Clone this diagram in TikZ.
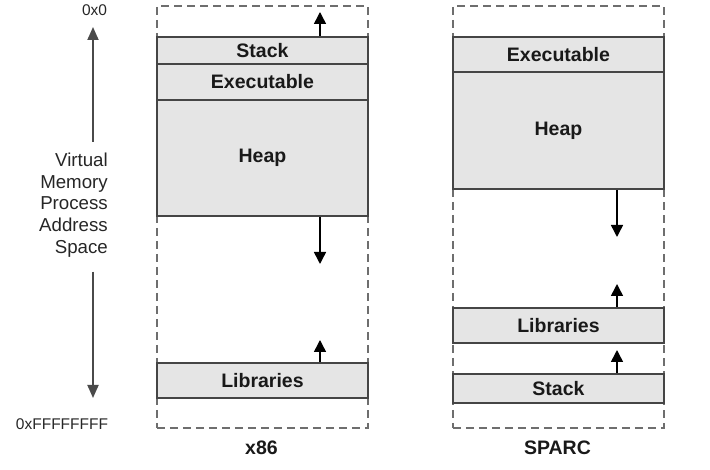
\documentclass[tikz,border=0pt]{standalone}
\usepackage{fontspec}
\setmainfont{Liberation Sans}
\usetikzlibrary{arrows.meta}
\definecolor{segfill}{HTML}{E5E5E5}
\definecolor{boxline}{HTML}{454545}
\definecolor{framegray}{HTML}{6E6E6E}
\definecolor{axisgray}{HTML}{4A4A4A}
\begin{document}
\begin{tikzpicture}[x=1pt,y=-1pt,
  seg/.style={draw=boxline, line width=1.9pt, fill=segfill, inner sep=0pt,
    minimum width=211pt, anchor=north west,
    font=\fontsize{19.5}{21}\selectfont\bfseries, text=black!90},
  frame/.style={draw=framegray, line width=1.7pt, dash pattern=on 8pt off 5pt,
    minimum width=211pt, minimum height=422pt, anchor=north west, inner sep=0pt},
  lab/.style={font=\fontsize{19.5}{21}\selectfont\bfseries, text=black!90, inner sep=0pt},
  addr/.style={font=\fontsize{15.5}{17}\selectfont, text=black!85, inner sep=0pt},
  growarrow/.style={-{Triangle[width=12pt,length=12pt]}, line width=1.5pt, black},
  axisarrow/.style={-{Triangle[width=11pt,length=13pt]}, line width=1.8pt, draw=axisgray, fill=black}
]
\useasboundingbox (0,0) rectangle (710,470);

% frames
\node[frame] (fx) at (156,5) {};
\node[frame] (fs) at (452,5) {};

% x86 segments
\node[seg, minimum height=27pt] (xstack) at (156,36) {Stack};
\node[seg, minimum height=36pt] (xexec) at (156,63) {Executable};
\node[seg, minimum height=116pt] (xheap) at (156,99) {Heap};
\node[seg, minimum height=35pt] (xlib) at (156,362) {Libraries};

% SPARC segments
\node[seg, minimum height=35pt] (sexec) at (452,36) {Executable};
\node[seg, minimum height=117pt] (sheap) at (452,71) {Heap};
\node[seg, minimum height=35pt] (slib) at (452,307) {Libraries};
\node[seg, minimum height=29pt] (sstack) at (452,373) {Stack};

% growth arrows
\coordinate (xstackend) at (320,12);
\coordinate (xheapend) at (320,264);
\coordinate (xlibend) at (320,340);
\coordinate (sheapend) at (617,237);
\coordinate (slibend) at (617,284);
\coordinate (sstackend) at (617,350);
\draw[growarrow] (xstack.north -| xstackend) -- (xstackend);
\draw[growarrow] (xheap.south -| xheapend) -- (xheapend);
\draw[growarrow] (xlib.north -| xlibend) -- (xlibend);
\draw[growarrow] (sheap.south -| sheapend) -- (sheapend);
\draw[growarrow] (slib.north -| slibend) -- (slibend);
\draw[growarrow] (sstack.north -| sstackend) -- (sstackend);

% labels
\node[lab] (lx) at (261.5,448) {x86};
\node[lab] (ls) at (557.5,448) {SPARC};

% left axis
\node[addr] (a0) at (94.5,10) {0x0};
\node[addr] (af) at (62,424) {0xFFFFFFFF};
\node[font=\fontsize{18.7}{21.7}\selectfont, text=black!85, align=right, anchor=east, inner sep=0pt] (vm) at (108,205)
  {Virtual\\Memory\\Process\\Address\\Space};
\coordinate (ut) at (93,142);
\coordinate (uh) at (93,27);
\coordinate (dt) at (93,272);
\coordinate (dh) at (93,398);
\draw[axisarrow] (ut) -- (uh);
\draw[axisarrow] (dt) -- (dh);
\end{tikzpicture}
\end{document}
